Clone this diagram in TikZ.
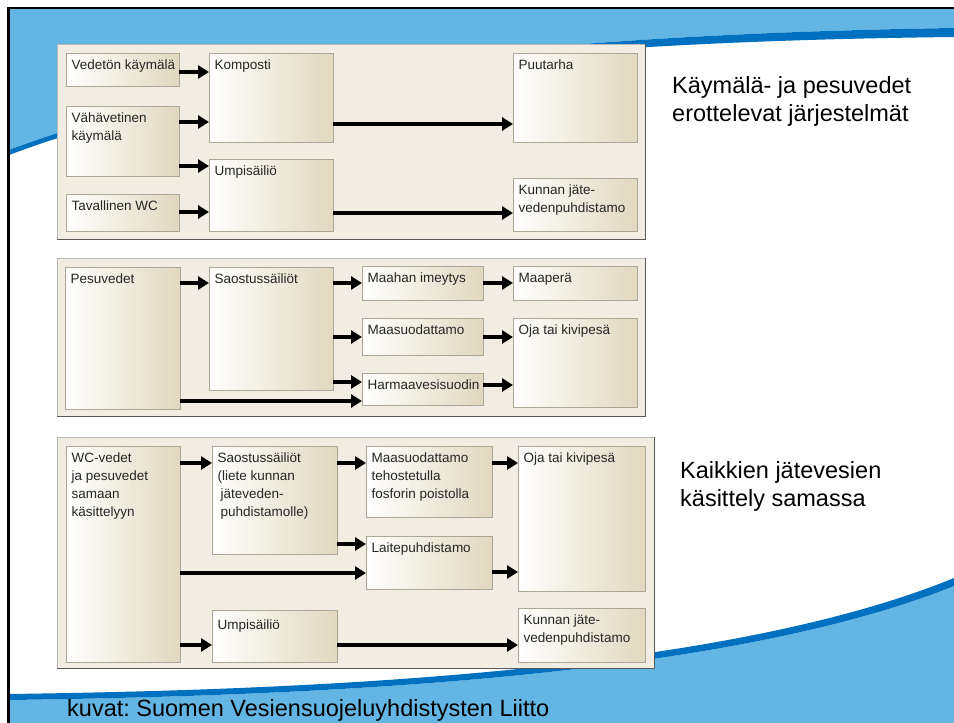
\documentclass[tikz,border=0pt]{standalone}
\usepackage{fontspec}
\setmainfont{Liberation Sans}
\frenchspacing
\usetikzlibrary{arrows.meta}

\definecolor{skyblue}{RGB}{99,182,228}
\definecolor{deepblue}{RGB}{0,112,192}
\definecolor{panelbg}{RGB}{241,237,226}
\definecolor{boxtan}{RGB}{224,216,190}
\definecolor{boxline}{RGB}{172,166,150}

\begin{document}
\begin{tikzpicture}[x=1pt, y=-1pt,
    panel/.style={draw=gray!55, fill=panelbg, anchor=north west, inner sep=0pt},
    panelrim/.style={draw=black!65, line width=1.2pt},
    unit/.style={draw=boxline, left color=white, right color=boxtan, anchor=north west, inner sep=0pt},
    boxtext/.style={anchor=north west, inner xsep=5.5pt, inner ysep=7pt, align=left, text=black!85, font=\fontsize{13.5}{18}\selectfont},
    flow/.style={line width=3.3pt, -{Triangle[length=11pt,width=13pt]}},
    slidetext/.style={anchor=north west, inner sep=0pt, align=left, font=\fontsize{23.5}{28.5}\selectfont}]

    \useasboundingbox (0,0) rectangle (954,723);
    \fill[white] (0,0) rectangle (954,723);

    % Slide background (waves)
    \fill[skyblue] (9,9) -| (954,28) .. controls (500,35) and (200,78) .. (9,150) -- cycle;
    \fill[deepblue] (954,28) .. controls (500,35) and (200,78) .. (9,150) -- (9,155) .. controls (200,83) and (500,42) .. (954,37) -- cycle;
    \fill[skyblue] (9,723) -- (9,700) .. controls (300,696) and (720,680) .. (954,586) -- (954,723) -- cycle;
    \fill[deepblue] (9,694) .. controls (300,690) and (720,674) .. (954,578) -- (954,586) .. controls (720,680) and (300,696) .. (9,700) -- cycle;
    \draw[line width=2.5pt] (8.5,723) -- (8.5,8) -- (954,8);

    % Panels
    \node[panel, minimum width=588pt, minimum height=195pt] (P1) at (57,44) {};
    \node[panel, minimum width=588pt, minimum height=158pt] (P2) at (57,258) {};
    \node[panel, minimum width=597pt, minimum height=231pt] (P3) at (57,437) {};
    \foreach \p in {P1,P2,P3}
        \draw[panelrim] (\p.north east) -- (\p.south east) -- (\p.south west);

    % Nodes: separate systems
    \node[unit, minimum width=113pt, minimum height=33pt, label={[boxtext]north west:Vedetön käymälä}] (A1) at (66,53) {};
    \node[unit, minimum width=113pt, minimum height=70pt, label={[boxtext]north west:Vähävetinen\\käymälä}] (A2) at (66,106) {};
    \node[unit, minimum width=113pt, minimum height=37pt, label={[boxtext]north west:Tavallinen WC}] (A3) at (66,194) {};
    \node[unit, minimum width=124pt, minimum height=89pt, label={[boxtext]north west:Komposti}] (A4) at (209,53) {};
    \node[unit, minimum width=124pt, minimum height=72pt, label={[boxtext]north west:Umpisäiliö}] (A5) at (209,159) {};
    \node[unit, minimum width=124pt, minimum height=89pt, label={[boxtext]north west:Puutarha}] (A6) at (513,53) {};
    \node[unit, minimum width=124pt, minimum height=53pt, label={[boxtext]north west:Kunnan jäte-\\vedenpuhdistamo}] (A7) at (513,178) {};

    % Nodes: washing water
    \node[unit, minimum width=115pt, minimum height=142pt, label={[boxtext]north west:Pesuvedet}] (B1) at (65,267) {};
    \node[unit, minimum width=124pt, minimum height=123pt, label={[boxtext]north west:Saostussäiliöt}] (B2) at (209,267) {};
    \node[unit, minimum width=121pt, minimum height=34pt, label={[boxtext]north west:Maahan imeytys}] (B3) at (362,266) {};
    \node[unit, minimum width=121pt, minimum height=37pt, label={[boxtext]north west:Maasuodattamo}] (B4) at (362,318) {};
    \node[unit, minimum width=121pt, minimum height=32pt, label={[boxtext]north west:Harmaavesisuodin}] (B5) at (362,373) {};
    \node[unit, minimum width=124pt, minimum height=34pt, label={[boxtext]north west:Maaperä}] (B6) at (513,266) {};
    \node[unit, minimum width=124pt, minimum height=89pt, label={[boxtext]north west:Oja tai kivipesä}] (B7) at (513,318) {};

    % Nodes: joint treatment
    \node[unit, minimum width=114pt, minimum height=216pt, label={[boxtext]north west:WC-vedet\\ja pesuvedet\\samaan\\käsittelyyn}] (C1) at (66,446) {};
    \node[unit, minimum width=125pt, minimum height=108pt, label={[boxtext]north west:Saostussäiliöt\\(liete kunnan\\\hspace*{3pt}jäteveden-\\\hspace*{3pt}puhdistamolle)}] (C2) at (212,446) {};
    \node[unit, minimum width=125pt, minimum height=52pt, label={[boxtext, inner ysep=10pt]north west:Umpisäiliö}] (C3) at (212,610) {};
    \node[unit, minimum width=126pt, minimum height=71pt, label={[boxtext]north west:Maasuodattamo\\tehostetulla\\fosforin poistolla}] (C4) at (366,446) {};
    \node[unit, minimum width=126pt, minimum height=53pt, label={[boxtext]north west:Laitepuhdistamo}] (C5) at (366,536) {};
    \node[unit, minimum width=127pt, minimum height=145pt, label={[boxtext]north west:Oja tai kivipesä}] (C6) at (518,446) {};
    \node[unit, minimum width=127pt, minimum height=54pt, label={[boxtext]north west:Kunnan jäte-\\vedenpuhdistamo}] (C7) at (518,608) {};

    % Connections (Arrows)
    \draw[flow] (A1.east |- 0,72) -- (A4.west |- 0,72);
    \draw[flow] (A2.east |- 0,122) -- (A4.west |- 0,122);
    \draw[flow] (A2.east |- 0,166) -- (A5.west |- 0,166);
    \draw[flow] (A3.east |- 0,212) -- (A5.west |- 0,212);
    \draw[flow] (A4.east |- 0,124) -- (A6.west |- 0,124);
    \draw[flow] (A5.east |- 0,213) -- (A7.west |- 0,213);

    \draw[flow] (B1.east |- 0,283) -- (B2.west |- 0,283);
    \draw[flow] (B2.east |- 0,283) -- (B3.west |- 0,283);
    \draw[flow] (B2.east |- 0,337) -- (B4.west |- 0,337);
    \draw[flow] (B2.east |- 0,382) -- (B5.west |- 0,382);
    \draw[flow] (B1.east |- 0,401) -- (B5.west |- 0,401);
    \draw[flow] (B3.east |- 0,283) -- (B6.west |- 0,283);
    \draw[flow] (B4.east |- 0,337) -- (B7.west |- 0,337);
    \draw[flow] (B5.east |- 0,385) -- (B7.west |- 0,385);

    \draw[flow] (C1.east |- 0,463) -- (C2.west |- 0,463);
    \draw[flow] (C2.east |- 0,463) -- (C4.west |- 0,463);
    \draw[flow] (C2.east |- 0,544) -- (C5.west |- 0,544);
    \draw[flow] (C1.east |- 0,573) -- (C5.west |- 0,573);
    \draw[flow] (C1.east |- 0,645) -- (C3.west |- 0,645);
    \draw[flow] (C3.east |- 0,645) -- (C7.west |- 0,645);
    \draw[flow] (C4.east |- 0,463) -- (C6.west |- 0,463);
    \draw[flow] (C5.east |- 0,572) -- (C6.west |- 0,572);

    % Slide texts
    \node[slidetext] (sepText) at (672,76) {Käymälä- ja pesuvedet\\erottelevat järjestelmät};
    \node[slidetext] (jointText) at (680,461) {Kaikkien jätevesien\\käsittely samassa};
    \node[slidetext] (credit) at (67,699) {kuvat: Suomen Vesiensuojeluyhdistysten Liitto};

\end{tikzpicture}
\end{document}
